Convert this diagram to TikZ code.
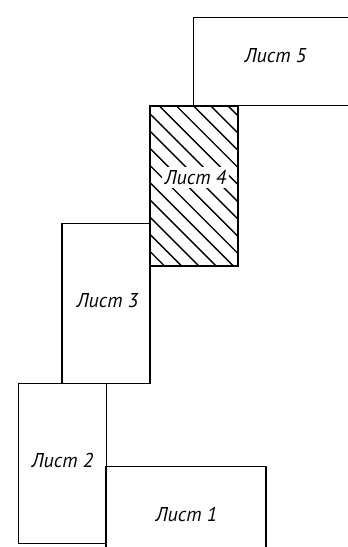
\documentclass[tikz,border=0pt]{standalone}
\usepackage{fontspec}
\setmainfont{PT Sans}
\begin{document}
\begin{tikzpicture}[x=1pt,y=1pt,
  sheet/.style={draw=black, line width=1.6pt, inner sep=0pt, minimum width=88pt, minimum height=160pt},
  wide/.style={sheet, minimum width=160pt, minimum height=88pt},
  lbl/.style={font=\fontsize{20}{24}\selectfont\itshape, inner sep=1pt},
  hatch/.style={line width=1.4pt}]
\useasboundingbox (0,0) rectangle (348,547);
\clip (0,0) rectangle (348,547);
% hatching of sheet 4
\begin{scope}
  \clip (150,280.5) rectangle (238,441.5);
  \foreach \k in {-1,...,15} {
    \pgfmathsetmacro{\d}{445.5+17.2*\k}
    \draw[hatch] (\d-500,500) -- (\d-200,200);
  }
\end{scope}
% sheets
\node[wide]  (b5) at (273.5,485.5) {};
\node[sheet] (b4) at (194,361) {};
\node[sheet] (b3) at (106.25,243.5) {};
\node[sheet] (b2) at (62.5,83.5) {};
\node[wide]  (b1) at (186.25,36.5) {};
% labels
\node[lbl] (t5) at (275.5,491) {Лист 5};
\node[lbl, fill=white, inner sep=3pt] (t4) at (195.5,369.5) {Лист 4};
\node[lbl] (t3) at (107.5,246.5) {Лист 3};
\node[lbl] (t2) at (62.5,86) {Лист 2};
\node[lbl] (t1) at (186.5,32.5) {Лист 1};
\end{tikzpicture}
\end{document}
